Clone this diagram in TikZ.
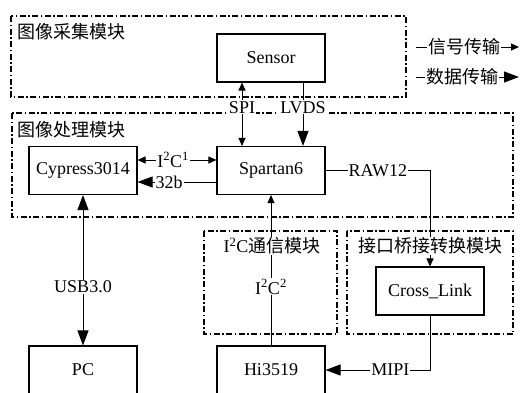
\documentclass[tikz,border=0pt]{standalone}
\usepackage{fontspec}
\setmainfont{Liberation Serif}
\newfontfamily\cjk{Noto Sans CJK SC}
\usetikzlibrary{arrows.meta}
\begin{document}
\begin{tikzpicture}[x=1pt, y=-1pt, font=\fontsize{18}{20}\selectfont,
	block/.style={draw, line width=1.1pt, minimum width=108pt, minimum height=48pt, inner sep=0pt},
	group/.style={draw, line width=1.1pt, dash pattern=on 6pt off 2.5pt on 1.5pt off 2.5pt},
	title/.style={fill=white, inner sep=1pt},
	lab/.style={fill=white, inner sep=1pt},
	sig/.style={line width=1pt, >={Triangle[length=8pt,width=7pt]}},
	dat/.style={line width=1pt, >={Triangle[length=15pt,width=11pt]}}]
	\clip (0,0) rectangle (522,392);
	\fill[white] (0,0) rectangle (522,392);

	\node[block] (sensor) at (271,58) {Sensor};
	\node[block] (spartan) at (271,170.5) {Spartan6};
	\node[block] (cypress) at (83,170.5) {Cypress3014};
	\node[block] (cross) at (430,291) {Cross\_Link};
	\node[block] (pc) at (83,370) {PC};
	\node[block] (hi) at (271,370) {Hi3519};

	\draw[group] (11,16) rectangle (406,97);
	\draw[group] (12,113) rectangle (513,217);
	\draw[group] (204,231) rectangle (337,334);
	\draw[group] (347,231) rectangle (513,334);

	\draw[sig,<->] ([xshift=-29pt]sensor.south) -- node[lab,pos=0.39]{SPI} ([xshift=-29pt]spartan.north);
	\draw[dat,->] ([xshift=32pt]sensor.south) -- node[lab,pos=0.39]{LVDS} ([xshift=32pt]spartan.north);
	\draw[sig,<->] ([yshift=10.5pt]cypress.east) -- node[lab,pos=0.45]{I\textsuperscript{2}C\textsuperscript{1}} ([yshift=10.5pt]spartan.west);
	\draw[dat,->] ([yshift=-11.5pt]spartan.west) -- node[lab,pos=0.6]{32b} ([yshift=-11.5pt]cypress.east);
	\draw[sig,->] (spartan.east) -- node[lab]{RAW12} (spartan.east -| cross.north) -- (cross.north);
	\draw[dat,<->] (cypress.south) -- node[lab,pos=0.61]{USB3.0} (pc.north);
	\draw[sig,->] (hi.north) -- node[lab,pos=0.39]{I\textsuperscript{2}C\textsuperscript{2}} (spartan.south);
	\draw[dat,->] (cross.south) -- (cross.south |- hi.east) -- node[lab,pos=0.38]{MIPI} (hi.east);

	\node[title, anchor=west] (acqT) at (16,32) {\cjk 图像采集模块};
	\node[title, anchor=west] (procT) at (16,130) {\cjk 图像处理模块};
	\node[title] (i2cT) at (272,246) {I\textsuperscript{2}C{\cjk 通信模块}};
	\node[title] (bridgeT) at (430,246) {\cjk 接口桥接转换模块};

	\coordinate (sigA) at (416,47);
	\coordinate (sigB) at (519,47);
	\coordinate (datA) at (416,77);
	\coordinate (datB) at (519,77);
	\draw[sig,->] (sigA) -- node[title,pos=0.47]{\cjk 信号传输} (sigB);
	\draw[dat,->] (datA) -- node[title,pos=0.45]{\cjk 数据传输} (datB);
\end{tikzpicture}
\end{document}
